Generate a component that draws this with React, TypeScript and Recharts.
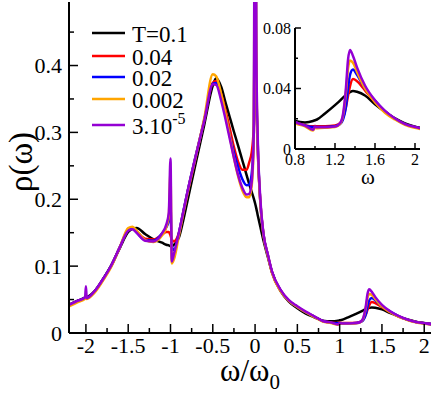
import { LineChart, Line, XAxis, YAxis } from 'recharts'

const FONT = '"Liberation Serif", "Times New Roman", "DejaVu Serif", serif'

// frequency grid (omega / omega0)
const omega = [
  -2.2, -2.1, -2.01, -2.0, -1.99, -1.9, -1.8, -1.7, -1.6, -1.5,
  -1.45, -1.4, -1.3, -1.2, -1.1, -1.05, -1.02, -1.0, -0.985, -0.96,
  -0.9, -0.85, -0.8, -0.7, -0.6, -0.5, -0.46, -0.4, -0.35, -0.3,
  -0.25, -0.2, -0.15, -0.1, -0.07, -0.04, -0.015, 0, 0.015, 0.03,
  0.06, 0.1, 0.15, 0.2, 0.3, 0.4, 0.5, 0.6, 0.7, 0.8,
  0.9, 0.98, 1.0, 1.02, 1.1, 1.2, 1.25, 1.28, 1.31, 1.33,
  1.35, 1.38, 1.42, 1.5, 1.6, 1.7, 1.8, 1.9, 2.0, 2.1,
]

const rhoT01 = [
  0.042, 0.048, 0.053, 0.054, 0.054, 0.062, 0.08, 0.101, 0.127, 0.151,
  0.156, 0.157, 0.148, 0.14, 0.135, 0.132, 0.131, 0.13, 0.13, 0.132,
  0.143, 0.168, 0.197, 0.255, 0.312, 0.37, 0.381, 0.368, 0.345, 0.323,
  0.301, 0.28, 0.258, 0.236, 0.223, 0.211, 0.201, 0.194, 0.186, 0.177,
  0.16, 0.138, 0.114, 0.091, 0.063, 0.047, 0.037, 0.029, 0.0235, 0.0185,
  0.0176, 0.0185, 0.019, 0.0195, 0.0235, 0.029, 0.032, 0.034, 0.0355, 0.0367,
  0.0376, 0.0383, 0.0378, 0.0354, 0.0296, 0.0246, 0.0202, 0.017, 0.0148, 0.0132,
]

const rhoT004 = [
  0.042, 0.048, 0.053, 0.054, 0.053, 0.062, 0.08, 0.101, 0.128, 0.154,
  0.157, 0.152, 0.141, 0.14, 0.147, 0.151, 0.151, 0.146, 0.14, 0.137,
  0.15, 0.18, 0.21, 0.265, 0.318, 0.374, 0.377, 0.357, 0.333, 0.306,
  0.278, 0.256, 0.244, 0.244, 0.255, 0.27, 0.31, 0.55, 0.36, 0.28,
  0.2, 0.147, 0.117, 0.091, 0.064, 0.048, 0.039, 0.031, 0.0245, 0.018,
  0.0158, 0.015, 0.0152, 0.015, 0.015, 0.0155, 0.017, 0.0205, 0.028, 0.035,
  0.0415, 0.0462, 0.0448, 0.0388, 0.031, 0.0248, 0.02, 0.0165, 0.0145, 0.013,
]

const rhoT002 = [
  0.042, 0.048, 0.053, 0.054, 0.053, 0.062, 0.08, 0.101, 0.128, 0.154,
  0.156, 0.15, 0.139, 0.138, 0.149, 0.158, 0.168, 0.19, 0.13, 0.124,
  0.15, 0.181, 0.211, 0.266, 0.319, 0.373, 0.374, 0.352, 0.325, 0.296,
  0.27, 0.248, 0.23, 0.221, 0.222, 0.238, 0.3, 0.75, 0.38, 0.29,
  0.2, 0.147, 0.117, 0.091, 0.064, 0.048, 0.039, 0.031, 0.0245, 0.018,
  0.0155, 0.0145, 0.0146, 0.0145, 0.0145, 0.015, 0.0165, 0.0195, 0.028, 0.04,
  0.049, 0.0525, 0.049, 0.04, 0.032, 0.025, 0.02, 0.0165, 0.0145, 0.013,
]

const rhoT0002 = [
  0.04, 0.046, 0.051, 0.056, 0.051, 0.06, 0.078, 0.099, 0.128, 0.157,
  0.159, 0.153, 0.139, 0.136, 0.146, 0.158, 0.175, 0.24, 0.104, 0.11,
  0.146, 0.178, 0.208, 0.264, 0.322, 0.387, 0.384, 0.357, 0.328, 0.295,
  0.262, 0.234, 0.213, 0.203, 0.203, 0.22, 0.29, 0.9, 0.4, 0.29,
  0.2, 0.146, 0.116, 0.09, 0.063, 0.048, 0.039, 0.031, 0.024, 0.0172,
  0.015, 0.0122, 0.014, 0.0138, 0.014, 0.0145, 0.0165, 0.022, 0.038, 0.053,
  0.0585, 0.057, 0.051, 0.04, 0.031, 0.024, 0.0195, 0.016, 0.014, 0.0127,
]

const rhoT3e5 = [
  0.042, 0.048, 0.053, 0.07, 0.052, 0.062, 0.08, 0.101, 0.128, 0.153,
  0.155, 0.15, 0.138, 0.137, 0.149, 0.162, 0.18, 0.261, 0.107, 0.118,
  0.15, 0.18, 0.21, 0.265, 0.318, 0.372, 0.371, 0.347, 0.32, 0.291,
  0.262, 0.236, 0.217, 0.207, 0.208, 0.226, 0.3, 1.0, 0.42, 0.3,
  0.205, 0.148, 0.118, 0.092, 0.065, 0.049, 0.04, 0.032, 0.025, 0.018,
  0.0155, 0.0128, 0.0148, 0.0143, 0.0143, 0.0148, 0.017, 0.023, 0.041, 0.059,
  0.0655, 0.0615, 0.054, 0.042, 0.0322, 0.0252, 0.0202, 0.0165, 0.0145, 0.013,
]

const seriesKeys = ['t01', 't004', 't002', 't0002', 't3e5']
const seriesLabels = ['T=0.1', '0.04', '0.02', '0.002', '3.10^-5']
const seriesColors = ['#000000', '#ff0000', '#0000ff', '#ffa500', '#9400d3']
const seriesValues = [rhoT01, rhoT004, rhoT002, rhoT0002, rhoT3e5]

const mainXTicks = [-2, -1.75, -1.5, -1.25, -1, -0.75, -0.5, -0.25, 0, 0.25, 0.5, 0.75, 1, 1.25, 1.5, 1.75, 2]
const mainYTicks = [0, 0.05, 0.1, 0.15, 0.2, 0.25, 0.3, 0.35, 0.4, 0.45]
const insetXTicks = [0.8, 1.0, 1.2, 1.4, 1.6, 1.8, 2.0]
const insetYTicks = [0, 0.02, 0.04, 0.06, 0.08]

const chartData = omega.map((w, i) => {
  const row: Record<string, number> = { w }
  seriesKeys.forEach((k, j) => {
    row[k] = seriesValues[j][i]
  })
  return row
})

const legendRows = [33, 56, 77, 99, 125]
const textStyle = { fontFamily: FONT }

// inward ticks, labels only on major ticks
function AxisTick(props: any) {
  const { x, y, payload, tkSide, tkStep, tkBig, tkSmall, tkFont, tkGap, tkLabels } = props
  const v = payload.value
  const big = Math.abs(v / tkStep - Math.round(v / tkStep)) < 1e-6
  const len = big ? tkBig : tkSmall
  let line = [x, y, x, y]
  let label = null
  const txt = String(v)
  if (tkSide === 'bottom') {
    line = [x, y, x, y - len]
    if (tkLabels && big)
      label = <text x={x} y={y + tkGap} textAnchor="middle" fontSize={tkFont} style={textStyle} fill="#000">{txt}</text>
  } else if (tkSide === 'top') {
    line = [x, y, x, y + len]
  } else if (tkSide === 'left') {
    line = [x, y, x + len, y]
    if (tkLabels && big)
      label = <text x={x - tkGap} y={y} dy="0.35em" textAnchor="end" fontSize={tkFont} style={textStyle} fill="#000">{txt}</text>
  } else {
    line = [x, y, x - len, y]
  }
  return (
    <g>
      <line x1={line[0]} y1={line[1]} x2={line[2]} y2={line[3]} stroke="#000" strokeWidth={1.5} />
      {label}
    </g>
  )
}

const axisLine = { stroke: '#000', strokeWidth: 2 }

export default function App() {
  return (
    <div style={{ position: 'absolute', left: 0, top: 0, width: 436, height: 394, background: '#fff', fontFamily: FONT }}>
      {/* Main chart */}
      <LineChart width={436} height={394} data={chartData} margin={{ top: 2, right: 5, bottom: 0, left: 9 }}>
        <XAxis
          dataKey="w" type="number" domain={[-2.2, 2.08]} allowDataOverflow ticks={mainXTicks} interval={0}
          height={61} tickSize={0} tickMargin={0} tickLine={false} axisLine={axisLine}
          tick={<AxisTick tkSide="bottom" tkStep={0.5} tkBig={9} tkSmall={5} tkFont={22} tkGap={20} tkLabels />}
        />
        <XAxis
          xAxisId="top" orientation="top" dataKey="w" type="number" domain={[-2.2, 2.08]} allowDataOverflow
          ticks={mainXTicks} interval={0} height={0} tickSize={0} tickMargin={0} tickLine={false} axisLine={axisLine}
          tick={<AxisTick tkSide="top" tkStep={0.5} tkBig={9} tkSmall={5} />}
        />
        <YAxis
          type="number" domain={[0, 0.495]} allowDataOverflow ticks={mainYTicks} interval={0}
          width={60} tickSize={0} tickMargin={0} tickLine={false} axisLine={axisLine}
          tick={<AxisTick tkSide="left" tkStep={0.1} tkBig={9} tkSmall={5} tkFont={22} tkGap={7} tkLabels />}
        />
        <YAxis
          yAxisId="right" orientation="right" type="number" domain={[0, 0.495]} allowDataOverflow
          ticks={mainYTicks} interval={0} width={0} tickSize={0} tickMargin={0} tickLine={false} axisLine={axisLine}
          tick={<AxisTick tkSide="right" tkStep={0.1} tkBig={9} tkSmall={5} />}
        />
        {seriesKeys.map((k, i) => (
          <Line
            key={k} dataKey={k} type="monotone" stroke={seriesColors[i]} strokeWidth={2.5}
            dot={false} isAnimationActive={false}
          />
        ))}
      </LineChart>

      {/* Inset */}
      <div style={{ position: 'absolute', left: 235, top: 0 }}>
        <LineChart width={195} height={190} data={chartData} margin={{ top: 28, right: 10, bottom: 0, left: 10 }}>
          <XAxis
            dataKey="w" type="number" domain={[0.8, 2.05]} allowDataOverflow ticks={insetXTicks} interval={0}
            height={41} tickSize={0} tickMargin={0} tickLine={false} axisLine={axisLine}
            tick={<AxisTick tkSide="bottom" tkStep={0.4} tkBig={6} tkSmall={3} tkFont={16} tkGap={16} tkLabels />}
          />
          <XAxis
            xAxisId="top" orientation="top" dataKey="w" type="number" domain={[0.8, 2.05]} allowDataOverflow
            ticks={insetXTicks} interval={0} height={0} tickSize={0} tickMargin={0} tickLine={false} axisLine={axisLine}
            tick={<AxisTick tkSide="top" tkStep={0.4} tkBig={6} tkSmall={3} />}
          />
          <YAxis
            type="number" domain={[0, 0.08]} allowDataOverflow ticks={insetYTicks} interval={0}
            width={50} tickSize={0} tickMargin={0} tickLine={false} axisLine={axisLine}
            tick={<AxisTick tkSide="left" tkStep={0.04} tkBig={6} tkSmall={3} tkFont={16} tkGap={4} tkLabels />}
          />
          <YAxis
            yAxisId="right" orientation="right" type="number" domain={[0, 0.08]} allowDataOverflow
            ticks={insetYTicks} interval={0} width={0} tickSize={0} tickMargin={0} tickLine={false} axisLine={axisLine}
            tick={<AxisTick tkSide="right" tkStep={0.04} tkBig={6} tkSmall={3} />}
          />
          {seriesKeys.map((k, i) => (
            <Line
              key={k} dataKey={k} type="monotone" stroke={seriesColors[i]} strokeWidth={2.5}
              dot={false} isAnimationActive={false}
            />
          ))}
        </LineChart>
      </div>

      {/* Legend and axis titles */}
      <svg width={436} height={394} style={{ position: 'absolute', left: 0, top: 0, pointerEvents: 'none', fontFamily: FONT }}>
        {seriesLabels.map((lab, i) => {
          const [base, sup] = lab.split('^')
          return (
            <g key={lab}>
              <line x1={92} x2={125} y1={legendRows[i]} y2={legendRows[i]} stroke={seriesColors[i]} strokeWidth={2.5} />
              <text x={132} y={legendRows[i] + 9} fontSize={23} fill="#000" style={textStyle}>
                {base}
                {sup && <tspan dy={-10} fontSize={16}>{sup}</tspan>}
              </text>
            </g>
          )
        })}
        <text transform="translate(32,162) rotate(-90)" textAnchor="middle" fontSize={33} fill="#000" style={textStyle}>ρ(ω)</text>
        <text x={250} y={381} textAnchor="middle" fontSize={31} fill="#000" style={textStyle}>
          ω/ω<tspan dy={8} fontSize={21}>0</tspan>
        </text>
        <text x={368} y={184} textAnchor="middle" fontSize={21} fill="#000" style={textStyle}>ω</text>
      </svg>
    </div>
  )
}
